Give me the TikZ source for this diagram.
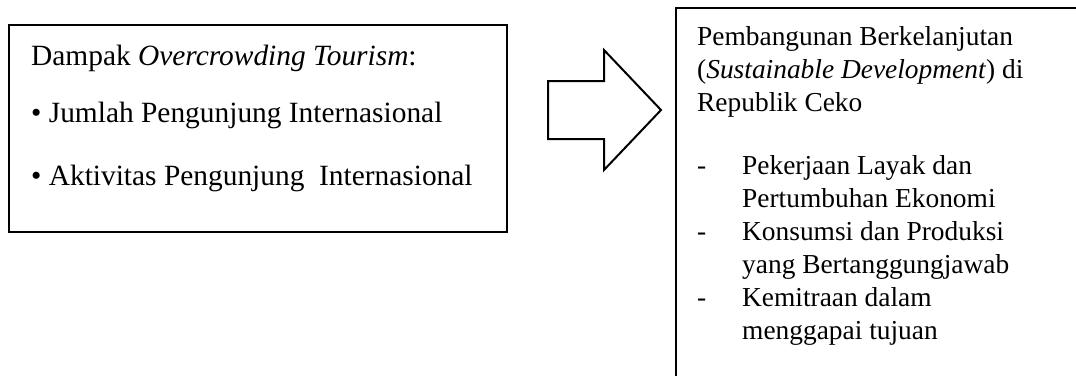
\documentclass[tikz,border=0pt]{standalone}
\usepackage{fontspec}
\setmainfont{Liberation Serif}
\usepackage{tikz}
\usetikzlibrary{positioning}
\tikzset{box/.style={draw, line width=2pt, rectangle, inner sep=0pt},
  boxtext/.style={anchor=base west, inner sep=0pt, font=\fontsize{27.4}{33}\selectfont}}
\newcommand{\toptext}[1]{\parbox[t]{480pt}{\raggedright #1}}

\begin{document}
\begin{tikzpicture}[x=1pt, y=-1pt, line join=miter]
\useasboundingbox (0,0) rectangle (1076,375);
\clip (0,0) rectangle (1076,375);
\node[box, minimum width=498pt, minimum height=207pt] (impact) at (258,128.5) {};
\node[boxtext, font=\fontsize{29.4}{33}\selectfont] (impacttxt) at (31,65) {\toptext{Dampak \textit{Overcrowding Tourism}:\\[24pt]
\textbullet\ Jumlah Pengunjung Internasional\\[30pt]
\textbullet\ Aktivitas Pengunjung\ \ Internasional}};
\draw[line width=2pt] (548,81) -- (604,81) -- (604,50) -- (661,110) -- (604,170) -- (604,139) -- (548,139) -- cycle;
\node[box, minimum width=420pt, minimum height=400pt, anchor=north west] (goal) at (675,7) {};
\node[boxtext] (goaltxt) at (697,45) {\toptext{Pembangunan Berkelanjutan\\
(\textit{Sustainable Development}) di\\
Republik Ceko\\[30pt]
\makebox[45pt][l]{-}Pekerjaan Layak dan\\
\hspace*{45pt}Pertumbuhan Ekonomi\\
\makebox[45pt][l]{-}Konsumsi dan Produksi\\
\hspace*{45pt}yang Bertanggungjawab\\
\makebox[45pt][l]{-}Kemitraan dalam\\
\hspace*{45pt}menggapai tujuan}};
\end{tikzpicture}
\end{document}
